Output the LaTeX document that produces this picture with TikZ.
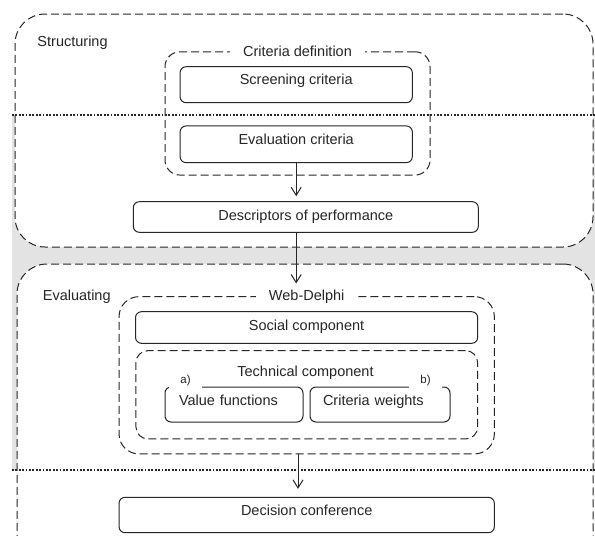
\documentclass[tikz,border=0pt]{standalone}
\usepackage{fontspec}
\setmainfont{Liberation Sans}
\usepackage{tikz}
\usetikzlibrary{arrows.meta, positioning}

\begin{document}
\begin{tikzpicture}[
    x=1pt, y=-1pt,
    every node/.style={text=black!85},
    lbl/.style={font=\fontsize{14.5}{17}\selectfont, inner sep=0pt},
    phase/.style={draw=black!85, line width=1pt, dash pattern=on 8pt off 4pt, fill=white, rounded corners=30pt, inner sep=0pt},
    group/.style={draw=black!85, line width=1pt, dash pattern=on 8pt off 4pt, rounded corners=15pt, inner sep=0pt},
    box/.style={draw=black!85, line width=1pt, rounded corners=6pt, fill=white, font=\fontsize{14.5}{17}\selectfont, text height=10.5pt, inner sep=2pt},
    tag/.style={fill=white, font=\fontsize{11.5}{13}\selectfont, inner ysep=2pt, inner xsep=11pt},
    divider/.style={line width=1.8pt, dash pattern=on 1.8pt off 1.6pt, black!85},
    arrow/.style={-{Straight Barb[length=8pt, width=10pt]}, line width=1pt, black!85},
]
\useasboundingbox (0,0) rectangle (595,536);
\clip (0,0) rectangle (595,536);
\fill[black!11] (12,115) rectangle (595,470);

\node[phase, minimum width=578pt, minimum height=233pt] (struct) at (304,130.5) {};
\node[phase, minimum width=576pt, minimum height=336pt] (evalph) at (305,432) {};
\node[lbl, anchor=base west] (structlbl) at (37.3,46.7) {Structuring};
\node[lbl, anchor=base west] (evallbl) at (42.7,300) {Evaluating};

\node[group, minimum width=265pt, minimum height=123.3pt] (critdef) at (297.5,113.4) {};
\node[lbl, fill=white, inner xsep=13pt, inner ysep=1pt, anchor=base] (critlbl) at ([yshift=-5pt]critdef.north) {Criteria definition};
\node[box, minimum width=232.3pt, minimum height=36pt, text depth=11.9pt] (screen) at (296.2,84.7) {Screening criteria};
\node[box, minimum width=232.3pt, minimum height=36.7pt, text depth=11.1pt] (evalcrit) at (296.2,144.3) {Evaluation criteria};
\node[box, minimum width=345pt, minimum height=30.6pt, text depth=4.5pt] (desc) at (305.8,217) {Descriptors of performance};

\node[group, rounded corners=20pt, minimum width=375.3pt, minimum height=157.3pt] (wd) at (306.7,375.3) {};
\node[lbl, fill=white, inner xsep=13pt, inner ysep=1pt, anchor=base] (wdlbl) at ([yshift=-4pt]wd.north) {Web-Delphi};
\node[box, minimum width=342.2pt, minimum height=31.6pt, text depth=5.5pt] (social) at (306.6,327.5) {Social component};
\node[group, rounded corners=12pt, minimum width=341.7pt, minimum height=88.3pt] (tech) at (306.8,394.8) {};
\node[lbl, anchor=base] (techlbl) at (305.5,376) {Technical component};
\node[box, minimum width=138pt, minimum height=35pt, text depth=8.1pt, text width=110pt, align=left] (vf) at (234,404.5) {Value functions};
\node[box, minimum width=140pt, minimum height=35pt, text depth=8.1pt, text width=114pt, align=left] (cw) at (380,404.5) {Criteria weights};
\node[tag, anchor=base] (atag) at ([xshift=21pt, yshift=3pt]vf.north west) {a)};
\node[tag, anchor=base] (btag) at ([xshift=-25pt, yshift=3pt]cw.north east) {b)};

\node[box, minimum width=375.3pt, minimum height=35.4pt, text depth=10.5pt] (dc) at (306.7,515) {Decision conference};

\draw[divider] (12,115) -- (595,115);
\draw[divider] (12,470) -- (595,470);

\draw[arrow, shorten >=5pt] (evalcrit.south) -- (evalcrit.south |- desc.north);
\draw[arrow, shorten >=5pt] (evalcrit.south |- desc.south) -- (evalcrit.south |- wdlbl.north);
\draw[arrow, shorten >=8pt] ([xshift=-8.7pt]wd.south) -- ([xshift=-8.7pt]wd.south |- dc.north);
\end{tikzpicture}
\end{document}
